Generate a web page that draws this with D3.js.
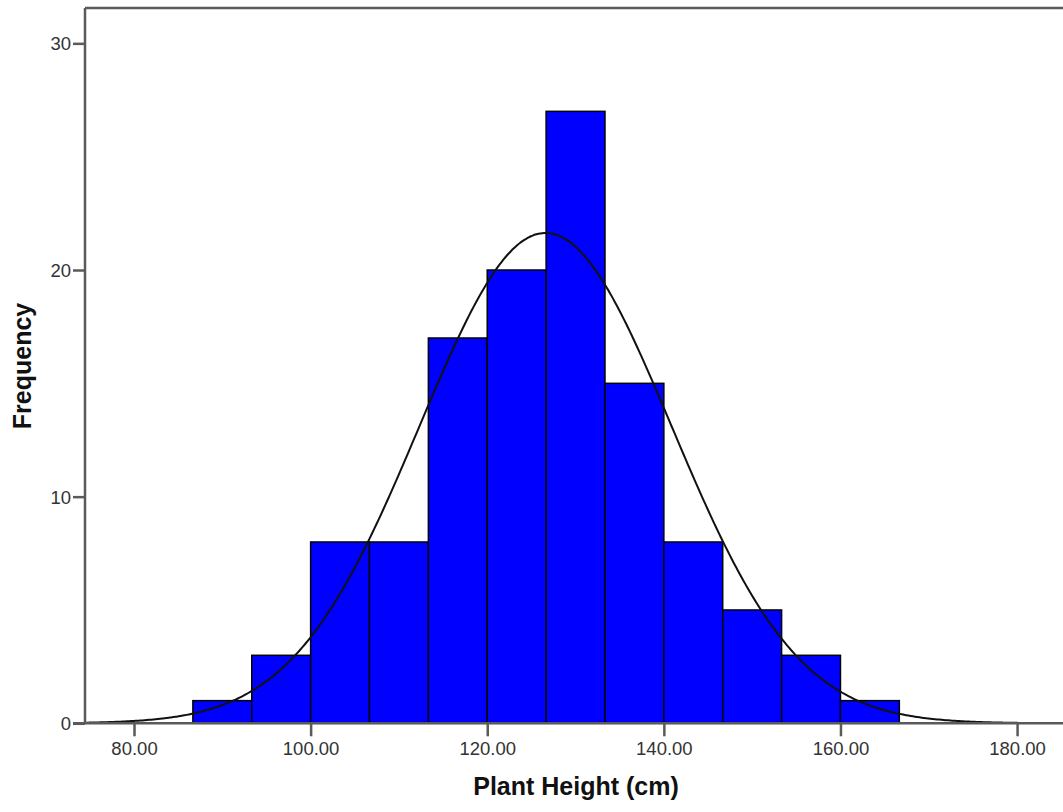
<!DOCTYPE html>
<html>
<head>
<meta charset="utf-8">
<script src="https://cdn.jsdelivr.net/npm/d3@7/dist/d3.min.js"></script>
<style>
  html, body { margin: 0; padding: 0; background: #fff; }
  svg { display: block; }
</style>
</head>
<body>
<svg id="chart" width="1063" height="812"></svg>
<script>
// Histogram bins for plant height (cm): lower edge, upper edge, frequency
const binStarts = [86.667, 93.333, 100, 106.667, 113.333, 120, 126.667, 133.333, 140, 146.667, 153.333, 160];
const binWidth = 20 / 3;
const counts = [1, 3, 8, 8, 17, 20, 27, 15, 8, 5, 3, 1];

// Fitted normal curve parameters
const fitMean = 126.6;
const fitSd = 14.26;
const fitN = 116;

// Axis ticks
const xTicks = [80, 100, 120, 140, 160, 180];
const yTicks = [0, 10, 20, 30];

const W = 1063, H = 812;
const margin = { top: 8, right: 0, bottom: 88.7, left: 85 };

const svg = d3.select("#chart");

const x = d3.scaleLinear().domain([74.45, 185.2]).range([margin.left, W - margin.right]);
const y = d3.scaleLinear().domain([0, 31.56]).range([H - margin.bottom, margin.top]);

const y0 = y(0);

// Bars
svg.append("g")
  .selectAll("rect")
  .data(counts.map((c, i) => ({ x0: binStarts[i], x1: binStarts[i] + binWidth, c })))
  .join("rect")
  .attr("x", d => x(d.x0))
  .attr("y", d => y(d.c))
  .attr("width", d => x(d.x1) - x(d.x0))
  .attr("height", d => y0 - y(d.c))
  .attr("fill", "#0000ff")
  .attr("stroke", "#000")
  .attr("stroke-width", 1.5);

// Normal density scaled to the histogram counts
const normal = v => fitN * binWidth / (fitSd * Math.sqrt(2 * Math.PI)) *
  Math.exp(-0.5 * Math.pow((v - fitMean) / fitSd, 2));
const curvePts = d3.range(x.domain()[0], x.domain()[1] + 0.01, 0.25).map(v => [v, normal(v)]);

svg.append("defs").append("clipPath").attr("id", "plotClip")
  .append("rect")
  .attr("x", margin.left).attr("y", margin.top)
  .attr("width", W - margin.left).attr("height", y0 - margin.top);

svg.append("path")
  .datum(curvePts)
  .attr("clip-path", "url(#plotClip)")
  .attr("fill", "none")
  .attr("stroke", "#111")
  .attr("stroke-width", 2)
  .attr("d", d3.line().x(d => x(d[0])).y(d => y(d[1])).curve(d3.curveBasis));

// Plot frame: top and left border lines
const frameColor = "#5a5a5a";
svg.append("line")
  .attr("x1", margin.left).attr("x2", W + 5)
  .attr("y1", margin.top).attr("y2", margin.top)
  .attr("stroke", frameColor).attr("stroke-width", 2.5);

// Y axis
const yAxis = d3.axisLeft(y).tickValues(yTicks).tickSize(12).tickPadding(2).tickFormat(d3.format("d"));
const gy = svg.append("g").attr("transform", `translate(${margin.left},0)`).call(yAxis);
gy.select(".domain").attr("stroke", frameColor).attr("stroke-width", 2.5)
  .attr("d", `M0,${margin.top}V${y0}`);
gy.selectAll(".tick line").attr("stroke", frameColor).attr("stroke-width", 2.5);
gy.selectAll(".tick text")
  .attr("fill", "#333")
  .style("font-family", "'Liberation Sans', Arial, sans-serif")
  .style("font-size", "18.5px")
  .attr("dy", "0.35em");

// X axis
const xAxis = d3.axisBottom(x).tickValues(xTicks).tickSize(13).tickPadding(6).tickFormat(d3.format(".2f"));
const gx = svg.append("g").attr("transform", `translate(0,${y0})`).call(xAxis);
gx.select(".domain").attr("stroke", frameColor).attr("stroke-width", 2.5)
  .attr("d", `M${margin.left - 12},0H${W + 5}`);
gx.selectAll(".tick line").attr("stroke", frameColor).attr("stroke-width", 2.5);
gx.selectAll(".tick text")
  .attr("fill", "#333")
  .style("font-family", "'Liberation Sans', Arial, sans-serif")
  .style("font-size", "18.5px");

// Axis titles
svg.append("text")
  .attr("x", 576).attr("y", 795)
  .attr("text-anchor", "middle")
  .style("font-family", "'Liberation Sans', Arial, sans-serif")
  .style("font-size", "25px").style("font-weight", "bold")
  .attr("fill", "#111")
  .text("Plant Height (cm)");

svg.append("text")
  .attr("transform", "translate(31,366) rotate(-90)")
  .attr("text-anchor", "middle")
  .style("font-family", "'Liberation Sans', Arial, sans-serif")
  .style("font-size", "25px").style("font-weight", "bold")
  .attr("fill", "#111")
  .text("Frequency");
</script>
</body>
</html>
